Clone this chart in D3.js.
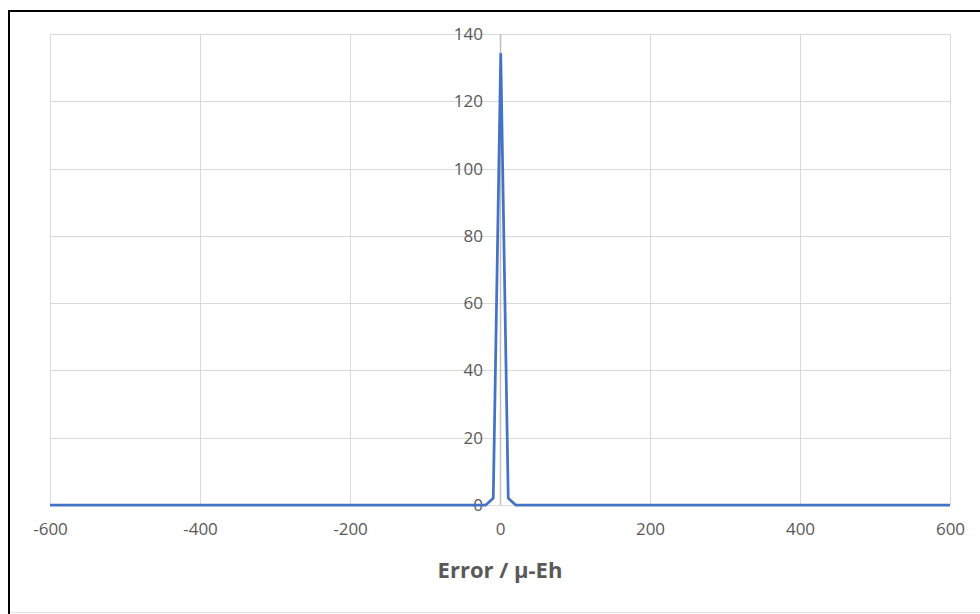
<!DOCTYPE html>
<html>
<head>
<meta charset="utf-8">
<script src="https://cdn.jsdelivr.net/npm/d3@7/dist/d3.min.js"></script>
<style>
  html, body { margin: 0; padding: 0; background: #fff; }
  svg { display: block; }
  text { font-family: "Open Sans", "Noto Sans", sans-serif; fill: #595959; }
</style>
</head>
<body>
<script>
// Error distribution: count of samples per error bin (µ-Eh)
const errorBins = [-600, -19, -9, 1, 11, 21, 600];
const counts    = [0, 0, 2, 134, 2, 0, 0];

const xTicks = [-600, -400, -200, 0, 200, 400, 600];
const yTicks = [0, 20, 40, 60, 80, 100, 120, 140];
const xTitle = "Error / µ-Eh";

const W = 980, H = 614;
const plot = { left: 50, right: 950, top: 34, bottom: 505 };

const svg = d3.select("body").append("svg")
  .attr("width", W).attr("height", H);

// Outer frame
svg.append("rect").attr("x", 0).attr("y", 0).attr("width", W).attr("height", H).attr("fill", "#fff");
svg.append("line").attr("x1", 9).attr("x2", W).attr("y1", 11).attr("y2", 11)
  .attr("stroke", "#000").attr("stroke-width", 2);
svg.append("line").attr("x1", 9).attr("x2", 9).attr("y1", 10).attr("y2", H)
  .attr("stroke", "#000").attr("stroke-width", 2);
svg.append("line").attr("x1", 10).attr("x2", W).attr("y1", 612.5).attr("y2", 612.5)
  .attr("stroke", "#e3e3e3").attr("stroke-width", 1);

const x = d3.scaleLinear().domain([-600, 600]).range([plot.left, plot.right]);
const y = d3.scaleLinear().domain([0, 140]).range([plot.bottom, plot.top]);

// Gridlines
const grid = svg.append("g");
grid.selectAll("line.h").data(yTicks).join("line")
  .attr("x1", plot.left).attr("x2", plot.right)
  .attr("y1", d => Math.round(y(d)) + 0.5).attr("y2", d => Math.round(y(d)) + 0.5)
  .attr("stroke", "#d9d9d9").attr("stroke-width", 1);
grid.selectAll("line.v").data(xTicks).join("line")
  .attr("y1", plot.top).attr("y2", plot.bottom)
  .attr("x1", d => Math.round(x(d)) + 0.5).attr("x2", d => Math.round(x(d)) + 0.5)
  .attr("stroke", d => d === 0 ? "#bfbfbf" : "#d9d9d9").attr("stroke-width", d => d === 0 ? 1.5 : 1);

const plain = d => String(d);

// Y axis labels sit beside the vertical axis at x = 0
const yAxis = d3.axisLeft(y).tickValues(yTicks).tickFormat(plain).tickSize(0).tickPadding(17);
const gy = svg.append("g").attr("transform", `translate(${x(0)},0)`).call(yAxis);
gy.select(".domain").remove();
gy.selectAll("text").style("font-size", "17px").attr("fill", "#595959");

// X axis labels below the plot
const xAxis = d3.axisBottom(x).tickValues(xTicks).tickFormat(plain).tickSize(0).tickPadding(18);
const gx = svg.append("g").attr("transform", `translate(0,${plot.bottom})`).call(xAxis);
gx.select(".domain").remove();
gx.selectAll("text").style("font-size", "17px").attr("fill", "#595959");

// Series line
const pts = errorBins.map((e, i) => [e, counts[i]]);
svg.append("path").datum(pts)
  .attr("fill", "none").attr("stroke", "#4472c4").attr("stroke-width", 2.75)
  .attr("stroke-linejoin", "round")
  .attr("d", d3.line().x(d => x(d[0])).y(d => y(d[1])));

// Axis title
svg.append("text").attr("x", x(0)).attr("y", 578)
  .attr("text-anchor", "middle")
  .style("font-size", "22px").style("font-weight", "bold")
  .text(xTitle);
</script>
</body>
</html>
